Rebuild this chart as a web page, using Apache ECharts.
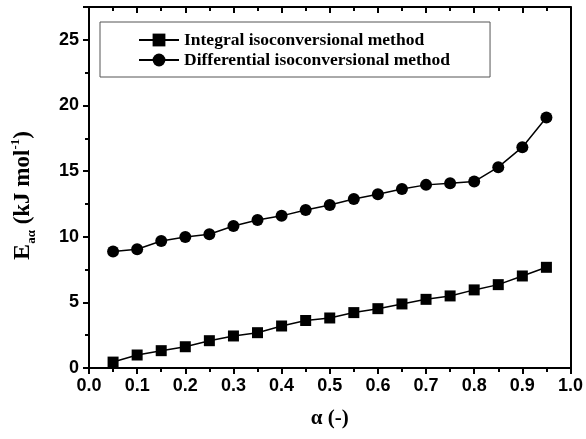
<!DOCTYPE html>
<html>
<head>
<meta charset="utf-8">
<script src="https://cdn.jsdelivr.net/npm/echarts@6/dist/echarts.min.js"></script>
<style>html,body{margin:0;padding:0;background:#fff;}#c{width:586px;height:439px;}</style>
</head>
<body>
<div id="c"></div>
<script>
const alpha = [0.05,0.10,0.15,0.20,0.25,0.30,0.35,0.40,0.45,0.50,0.55,0.60,0.65,0.70,0.75,0.80,0.85,0.90,0.95];
const integral = [0.45,0.99,1.32,1.62,2.08,2.44,2.69,3.2,3.62,3.81,4.22,4.52,4.88,5.23,5.49,5.95,6.35,7.01,7.67];
const differential = [8.87,9.05,9.68,9.98,10.19,10.82,11.28,11.59,12.04,12.42,12.88,13.24,13.64,13.95,14.08,14.2,15.3,16.82,19.08];
const seriesNames = ['Integral isoconversional method','Differential isoconversional method'];

const chart = echarts.init(document.getElementById('c'), null, {renderer:'canvas'});
const axisFont = {fontFamily:'Liberation Sans', fontWeight:'bold', fontSize:18, color:'#000'};
chart.setOption({
  animation:false,
  backgroundColor:'#fff',
  grid:{left:89, right:13, top:7, bottom:71},
  legend:{
    orient:'vertical', left:100, top:22,
    padding:[9,40,8,38],
    itemGap:2, itemWidth:40, itemHeight:16,
    borderColor:'#555', borderWidth:1,
    textStyle:{fontFamily:'Liberation Serif', fontWeight:'bold', fontSize:17.5, color:'#000'},
    data:seriesNames
  },
  xAxis:[{
    type:'value', min:0, max:1, interval:0.1, position:'bottom',
    axisLine:{onZero:false, lineStyle:{color:'#000', width:2}},
    axisTick:{inside:false, length:6, lineStyle:{color:'#000', width:2}},
    minorTick:{show:true, splitNumber:2, length:4, lineStyle:{color:'#000', width:2}},
    splitLine:{show:false},
    axisLabel:Object.assign({margin:9, formatter:v=>v.toFixed(1)}, axisFont),
    name:'α (-)', nameLocation:'middle', nameGap:40,
    nameTextStyle:{fontFamily:'Liberation Serif', fontWeight:'bold', fontSize:21, color:'#000'}
  },{
    type:'value', min:0, max:1, interval:0.1, position:'top',
    axisLine:{onZero:false, lineStyle:{color:'#000', width:2}},
    axisTick:{inside:true, length:6, lineStyle:{color:'#000', width:2}},
    minorTick:{show:true, splitNumber:2, length:4, lineStyle:{color:'#000', width:2}},
    splitLine:{show:false}, axisLabel:{show:false}
  }],
  yAxis:[{
    type:'value', min:0, max:27.5, interval:5, position:'left',
    axisLine:{show:true, onZero:false, lineStyle:{color:'#000', width:2}},
    axisTick:{show:true, inside:false, length:6, lineStyle:{color:'#000', width:2}},
    minorTick:{show:true, splitNumber:2, length:4, lineStyle:{color:'#000', width:2}},
    splitLine:{show:false},
    axisLabel:Object.assign({margin:10, showMaxLabel:false}, axisFont),
    name:'{e|E}{sub|aα}{t| (kJ mol}{sup|-1}{t|)}',
    nameLocation:'middle', nameGap:54, nameRotate:90,
    nameTextStyle:{
      padding:[0,16,0,0],
      rich:{
        e:{fontFamily:'Liberation Serif', fontWeight:'bold', fontSize:24, color:'#000', verticalAlign:'bottom', lineHeight:26},
        sub:{fontFamily:'Liberation Serif', fontWeight:'bold', fontSize:13, color:'#000', verticalAlign:'bottom', lineHeight:26, padding:[0,0,-3,0]},
        t:{fontFamily:'Liberation Serif', fontWeight:'bold', fontSize:23, color:'#000', verticalAlign:'bottom', lineHeight:26},
        sup:{fontFamily:'Liberation Serif', fontWeight:'bold', fontSize:13, color:'#000', verticalAlign:'top', lineHeight:26}
      }
    }
  },{
    type:'value', min:0, max:27.5, interval:5, position:'right',
    axisLine:{show:true, onZero:false, lineStyle:{color:'#000', width:2}},
    axisTick:{show:false}, axisLabel:{show:false}, splitLine:{show:false}
  }],
  series:[{
    name:seriesNames[0], type:'line', xAxisIndex:0, yAxisIndex:0,
    data:alpha.map((a,i)=>[a,integral[i]]),
    symbol:'rect', symbolSize:11,
    lineStyle:{color:'#000', width:1.5}, itemStyle:{color:'#000'}
  },{
    name:seriesNames[1], type:'line', xAxisIndex:0, yAxisIndex:0,
    data:alpha.map((a,i)=>[a,differential[i]]),
    symbol:'circle', symbolSize:12,
    lineStyle:{color:'#000', width:1.5}, itemStyle:{color:'#000'}
  }]
});
</script>
</body>
</html>
